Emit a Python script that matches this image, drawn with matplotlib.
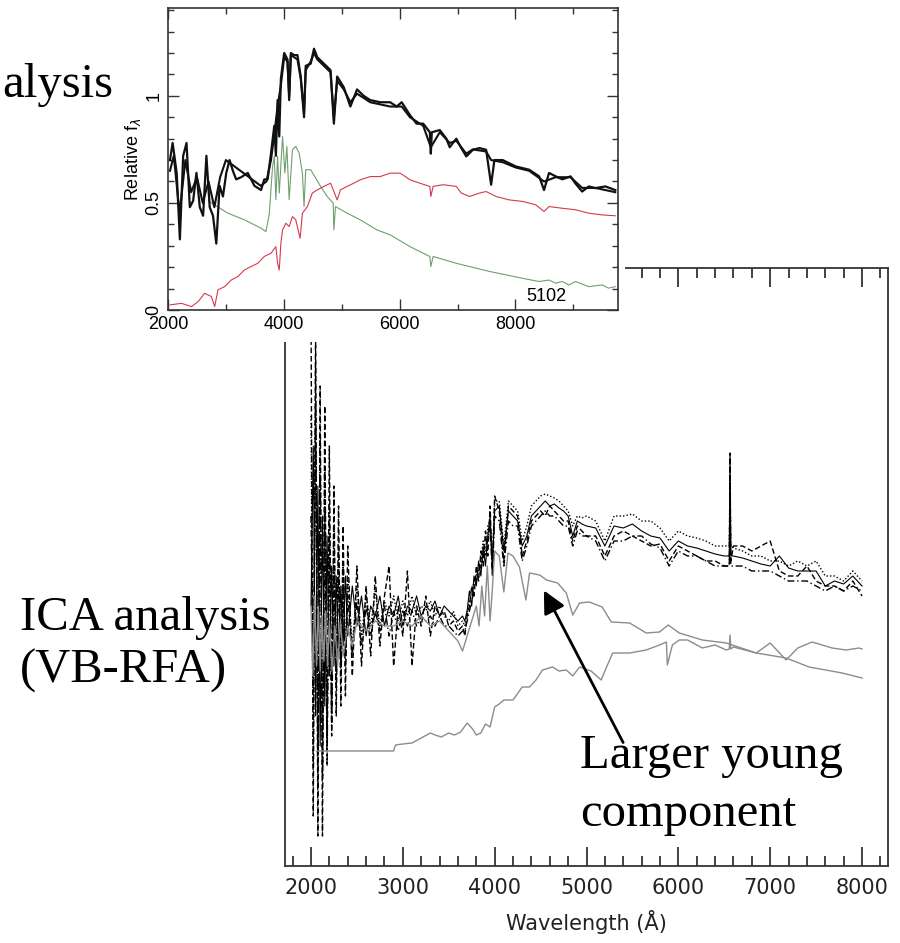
import matplotlib
matplotlib.use("Agg")
import matplotlib.pyplot as plt
from matplotlib.ticker import MultipleLocator
from matplotlib.patches import Rectangle

# ---- lower panel: ICA (VB-RFA) spectra, flux in arbitrary units ----
wl_obs = [2000, 2025, 2050, 2075, 2100, 2125, 2150, 2175, 2200, 2225, 2250, 2275, 2300, 2325, 2350, 2375, 2400,
          2450, 2500, 2550, 2600, 2650, 2700, 2750, 2800, 2850, 2900, 2950, 3000, 3050, 3100, 3150, 3200, 3250,
          3300, 3350, 3400, 3450, 3500, 3550, 3600, 3650,
          3675, 3700, 3725, 3750, 3775, 3800, 3825, 3850, 3875, 3900, 3925, 3950, 3975, 4000,
          4050, 4100, 4150, 4200, 4250, 4300, 4350, 4400, 4450, 4500, 4550, 4600, 4650, 4700, 4750, 4800, 4850,
          4900, 4950, 5000,
          5100, 5200, 5300, 5400, 5500, 5600, 5700, 5800, 5900, 6000, 6100, 6200, 6300, 6400, 6500, 6555, 6563,
          6571, 6600, 6700, 6800, 6900, 7000, 7100, 7200, 7300, 7400, 7500, 7600, 7700, 7800, 7900, 8000]

flux_solid = [2.6, 4.2, 1.5, 3.8, 1.2, 3.5, 1.6, 3.3, 1.9, 3.0, 2.0, 2.9, 2.1, 2.8, 2.2, 2.9, 2.3,
              2.8, 2.4, 2.7, 2.3, 2.6, 2.5, 2.7, 2.4, 2.6, 2.5, 2.7, 2.4, 2.6, 2.55, 2.7, 2.5, 2.6, 2.55, 2.65,
              2.5, 2.6, 2.55, 2.5, 2.45, 2.5,
              2.45, 2.55, 2.75, 2.6, 2.9, 2.8, 3.05, 2.9, 3.2, 3.0, 3.3, 3.5, 3.0, 3.55,
              3.6, 3.15, 3.55, 3.5, 3.45, 3.2, 3.3, 3.5, 3.55, 3.6, 3.65, 3.6, 3.62, 3.58, 3.55, 3.5, 3.3, 3.45,
              3.42, 3.4,
              3.38, 3.2, 3.4, 3.38, 3.42, 3.35, 3.3, 3.28, 3.15, 3.25, 3.2, 3.18, 3.15, 3.12, 3.1, 3.1, 4.1, 3.1,
              3.1, 3.08, 3.05, 3.02, 3.0, 3.1, 2.98, 2.95, 2.95, 2.95, 2.8, 2.85, 2.82, 2.9, 2.8]

flux_dashed = [5.6, 0.5, 5.4, 0.3, 4.8, 0.3, 4.6, 1.2, 4.2, 1.3, 3.8, 1.5, 3.6, 1.6, 3.4, 1.7, 3.2,
               1.9, 3.0, 2.0, 2.8, 2.1, 2.9, 2.2, 2.7, 3.0, 2.0, 2.6, 2.3, 2.95, 2.0, 2.6, 2.4, 2.7, 2.3, 2.6,
               2.5, 2.55, 2.4, 2.45, 2.35, 2.4,
               2.3, 2.5, 2.6, 2.8, 2.7, 3.0, 2.85, 3.15, 3.0, 3.35, 3.1, 3.6, 2.95, 3.7,
               3.55, 3.05, 3.6, 3.55, 3.5, 3.1, 3.25, 3.45, 3.5, 3.55, 3.5, 3.6, 3.55, 3.5, 3.45, 3.45, 3.25, 3.4,
               3.35, 3.3,
               3.3, 3.1, 3.3, 3.35, 3.3, 3.25, 3.2, 3.22, 3.05, 3.2, 3.15, 3.1, 3.05, 3.05, 3.0, 3.0, 4.13, 3.05,
               3.2, 3.2, 3.15, 3.2, 3.25, 2.95, 2.9, 2.9, 3.0, 2.85, 2.8, 2.8, 2.75, 2.85, 2.7]

flux_dotted = [4.5, 1.0, 5.0, 0.8, 4.3, 1.0, 4.0, 1.3, 3.6, 1.6, 3.4, 1.9, 3.2, 2.0, 3.0, 2.1, 2.9,
               2.2, 2.8, 2.3, 2.7, 2.4, 2.75, 2.4, 2.65, 2.5, 2.7, 2.45, 2.65, 2.5, 2.7, 2.5, 2.6, 2.55, 2.65,
               2.5, 2.6, 2.5, 2.45, 2.55, 2.4, 2.45,
               2.4, 2.55, 2.65, 2.7, 2.85, 2.9, 3.0, 3.05, 3.25, 3.1, 3.4, 3.45, 3.05, 3.65,
               3.65, 3.2, 3.65, 3.6, 3.55, 3.25, 3.4, 3.6, 3.65, 3.7, 3.72, 3.7, 3.68, 3.65, 3.6, 3.55, 3.4, 3.5,
               3.48, 3.5,
               3.45, 3.25, 3.5, 3.5, 3.52, 3.45, 3.45, 3.38, 3.25, 3.35, 3.3, 3.28, 3.25, 3.2, 3.2, 3.2, 3.9, 3.2,
               3.18, 3.15, 3.1, 3.1, 3.05, 3.05, 3.0, 3.05, 3.0, 3.05, 2.9, 2.9, 2.85, 2.95, 2.85]

flux_dashdot = [3.5, 1.8, 4.6, 1.1, 3.9, 0.9, 3.6, 1.0, 3.3, 1.4, 3.0, 1.8, 2.9, 1.9, 2.8, 2.0, 2.7,
                2.1, 2.65, 2.2, 2.6, 2.3, 2.55, 2.35, 2.6, 2.3, 2.55, 2.35, 2.55, 2.4, 2.55, 2.4, 2.5, 2.45, 2.5,
                2.4, 2.5, 2.4, 2.4, 2.35, 2.3, 2.35,
                2.35, 2.45, 2.55, 2.65, 2.75, 2.85, 2.95, 3.0, 3.1, 3.2, 3.25, 3.4, 2.9, 3.5,
                3.45, 3.0, 3.45, 3.4, 3.4, 3.05, 3.2, 3.4, 3.45, 3.5, 3.55, 3.5, 3.5, 3.45, 3.4, 3.4, 3.2, 3.35,
                3.3, 3.3,
                3.25, 3.05, 3.25, 3.25, 3.3, 3.3, 3.22, 3.18, 3.0, 3.15, 3.1, 3.1, 3.05, 3.0, 3.0, 3.0, 3.7, 3.0,
                3.0, 3.0, 2.95, 2.95, 2.95, 2.9, 2.85, 2.85, 2.85, 2.8, 2.75, 2.8, 2.75, 2.8, 2.75]

wl_young = [2000, 2020, 2040, 2060, 2080, 2100, 2120, 2140, 2160, 2180, 2200, 2230, 2260, 2290, 2320, 2350,
            2400, 2450, 2500, 2600, 2700, 2800, 2900, 3000, 3100, 3200, 3300, 3400, 3500, 3600, 3650, 3700,
            3750, 3800, 3830, 3860, 3890, 3920, 3950, 3970, 4000, 4050, 4100, 4145, 4200, 4270, 4340, 4380,
            4490, 4565, 4685, 4780, 4850, 4925, 5030, 5170, 5270, 5470, 5650, 5795, 5890, 6010, 6261, 6522,
            6848, 7174, 7424, 7783, 8000]
flux_young = [2.6, 1.9, 2.7, 2.0, 2.6, 1.95, 2.5, 2.05, 2.55, 2.0, 2.45, 1.95, 2.4, 2.0, 2.45, 2.1,
              2.4, 2.2, 2.45, 2.35, 2.45, 2.4, 2.4, 2.45, 2.4, 2.5, 2.4, 2.45, 2.35, 2.25, 2.15, 2.3,
              2.45, 2.6, 2.4, 2.8, 2.5, 3.0, 2.45, 2.7, 3.15, 3.1, 2.74, 3.13, 3.1, 2.99, 2.66, 2.93,
              2.91, 2.86, 2.83, 2.73, 2.51, 2.63, 2.64, 2.59, 2.44, 2.43, 2.33, 2.34, 2.41, 2.33, 2.26, 2.23,
              2.13, 2.08, 1.99, 1.93, 1.88]

wl_old = [2060, 2900, 2920, 3000, 3100, 3200, 3300, 3350, 3420, 3500, 3560, 3630, 3700, 3760, 3800, 3850,
          3900, 3950, 4000, 4050, 4100, 4200, 4300, 4380, 4450, 4520, 4630, 4700, 4780, 4850, 4925, 5050,
          5160, 5200, 5285, 5470, 5650, 5795, 5870, 5880, 5935, 6010, 6100, 6261, 6400, 6522, 6555, 6563,
          6571, 6600, 6848, 7000, 7174, 7300, 7457, 7674, 7826, 7967, 8000]
flux_old = [1.15, 1.15, 1.21, 1.22, 1.23, 1.28, 1.33, 1.31, 1.29, 1.33, 1.31, 1.34, 1.43, 1.37, 1.31, 1.33,
            1.42, 1.39, 1.59, 1.62, 1.66, 1.66, 1.79, 1.79, 1.86, 1.96, 1.99, 1.95, 1.96, 1.9, 1.99, 1.95,
            1.86, 1.95, 2.13, 2.13, 2.16, 2.21, 2.24, 2.01, 2.21, 2.26, 2.26, 2.18, 2.21, 2.16, 2.17, 2.31,
            2.17, 2.19, 2.13, 2.23, 2.06, 2.18, 2.24, 2.18, 2.16, 2.18, 2.17]

# ---- inset: spectral synthesis fit (relative f_lambda) ----
wl_in_obs = [2034, 2080, 2150, 2205, 2262, 2320, 2377, 2434, 2491, 2549, 2606, 2663, 2720, 2777, 2834, 2891,
             2949, 3006, 3063, 3120, 3177, 3263, 3377, 3492, 3606, 3663, 3720, 3778, 3835, 3863, 3892, 3921,
             3949, 4006, 4063, 4092, 4121, 4178, 4235, 4292, 4349, 4378, 4464, 4521, 4578, 4692, 4806, 4864,
             4921, 5035, 5149, 5264, 5378, 5492, 5664, 5835, 5949, 6035, 6178, 6292, 6407, 6521, 6538, 6555,
             6693, 6806, 6864, 6978, 7064, 7150, 7264, 7378, 7493, 7550, 7579, 7636, 7779, 8007, 8236, 8408,
             8493, 8579, 8694, 8808, 8951, 9037, 9151, 9265, 9380, 9551, 9723]
f_in_obs = [0.70, 0.78, 0.64, 0.33, 0.72, 0.78, 0.48, 0.51, 0.64, 0.48, 0.44, 0.72, 0.48, 0.44, 0.31, 0.58,
            0.53, 0.64, 0.70, 0.65, 0.61, 0.62, 0.64, 0.58, 0.56, 0.61, 0.61, 0.73, 0.86, 0.72, 0.98, 0.81,
            1.08, 1.20, 1.17, 0.98, 1.20, 1.19, 1.19, 1.09, 0.90, 1.14, 1.15, 1.22, 1.18, 1.15, 1.12, 0.87,
            1.09, 1.04, 0.95, 1.03, 1.00, 0.98, 0.97, 0.97, 0.95, 0.97, 0.91, 0.87, 0.87, 0.83, 0.73, 0.83,
            0.84, 0.80, 0.76, 0.80, 0.756, 0.717, 0.748, 0.756, 0.748, 0.64, 0.585, 0.70, 0.70, 0.67, 0.655, 0.624,
            0.56, 0.64, 0.624, 0.61, 0.624, 0.59, 0.553, 0.577, 0.569, 0.577, 0.56]

wl_in_fit = [2034, 2100, 2200, 2300, 2400, 2500, 2600, 2700, 2800, 2900, 3000, 3100, 3200, 3300, 3400, 3500,
             3600, 3700, 3778, 3835, 3892, 3949, 4006, 4063, 4092, 4121, 4178, 4235, 4292, 4349, 4378, 4464,
             4521, 4578, 4692, 4806, 4864, 4921, 5035, 5149, 5264, 5378, 5492, 5664, 5835, 6035, 6178, 6407,
             6538, 6693, 6864, 6978, 7150, 7264, 7493, 7579, 7779, 8007, 8236, 8493, 8694, 8951, 9151, 9380,
             9723]
f_in_fit = [0.65, 0.72, 0.45, 0.70, 0.55, 0.62, 0.50, 0.60, 0.48, 0.62, 0.70, 0.68, 0.66, 0.64, 0.62, 0.60,
            0.58, 0.60, 0.70, 0.82, 0.95, 1.05, 1.18, 1.16, 1.00, 1.19, 1.18, 1.17, 1.08, 0.92, 1.12, 1.16,
            1.20, 1.17, 1.14, 1.11, 0.90, 1.07, 1.03, 0.97, 1.01, 0.99, 0.97, 0.96, 0.95, 0.95, 0.90, 0.86,
            0.76, 0.83, 0.78, 0.79, 0.73, 0.75, 0.74, 0.70, 0.69, 0.665, 0.65, 0.60, 0.62, 0.62, 0.57, 0.57,
            0.55]

wl_in_young = [2700, 2749, 3034, 3320, 3606, 3692, 3749, 3806, 3835, 3863, 3892, 3921, 3978, 4018, 4052, 4092,
               4149, 4206, 4264, 4321, 4349, 4378, 4464, 4635, 4749, 4852, 4864, 4892, 5093, 5321, 5607, 5835,
               6178, 6407, 6521, 6538, 6578, 6978, 7550, 8122, 8408, 8579, 8694, 8808, 8922, 9037, 9265, 9494,
               9608, 9723]
f_in_young = [0.51, 0.50, 0.452, 0.421, 0.382, 0.366, 0.45, 0.67, 0.717, 0.515, 0.717, 0.546, 0.81, 0.639, 0.764,
              0.515, 0.748, 0.764, 0.733, 0.639, 0.483, 0.655, 0.655, 0.577, 0.53, 0.499, 0.374, 0.483, 0.452,
              0.421, 0.374, 0.351, 0.296, 0.265, 0.25, 0.203, 0.25, 0.218, 0.18, 0.148, 0.133, 0.14, 0.125,
              0.133, 0.117, 0.133, 0.109, 0.117, 0.102, 0.109]

wl_in_old = [2034, 2234, 2406, 2520, 2634, 2749, 2806, 2863, 2977, 3092, 3206, 3320, 3435, 3549, 3663, 3778,
             3863, 3892, 3921, 3949, 3978, 4035, 4092, 4149, 4206, 4281, 4321, 4407, 4492, 4578, 4692, 4807,
             4921, 4978, 5093, 5207, 5321, 5493, 5664, 5836, 6007, 6092, 6178, 6350, 6521, 6538, 6578, 6750,
             6978, 7064, 7207, 7379, 7493, 7664, 7893, 8122, 8351, 8493, 8579, 8808, 9037, 9265, 9494, 9723]
f_in_old = [0.024, 0.031, 0.016, 0.039, 0.078, 0.063, 0.016, 0.094, 0.109, 0.14, 0.156, 0.187, 0.203, 0.218,
            0.25, 0.265, 0.296, 0.218, 0.187, 0.312, 0.374, 0.405, 0.39, 0.436, 0.421, 0.335, 0.452, 0.483,
            0.546, 0.561, 0.577, 0.592, 0.514, 0.561, 0.577, 0.592, 0.608, 0.623, 0.623, 0.639, 0.639, 0.624,
            0.608, 0.592, 0.577, 0.53, 0.577, 0.585, 0.577, 0.546, 0.53, 0.546, 0.553, 0.53, 0.514, 0.507,
            0.491, 0.46, 0.483, 0.475, 0.468, 0.452, 0.444, 0.44]

W, H = 900.0, 943.0


def box(x0, y0, x1, y1):
    # pixel box measured from the top-left corner -> figure rect
    return [x0 / W, 1 - y1 / H, (x1 - x0) / W, (y1 - y0) / H]


fig = plt.figure(figsize=(9, 9.43), dpi=100)

# lower panel
ax = fig.add_axes(box(285, 268, 888, 866), zorder=0)
ax.plot(wl_obs, flux_solid, color='black', lw=0.8)
ax.plot(wl_obs, flux_dashed, color='black', lw=1.0, ls=(0, (4, 2)))
ax.plot(wl_obs, flux_dotted, color='black', lw=1.0, ls=(0, (1, 1.5)))
ax.plot(wl_obs, flux_dashdot, color='black', lw=1.0, ls=(0, (5, 2, 1, 2)))
ax.plot(wl_young, flux_young, color='#8c8c8c', lw=1.0)
ax.plot(wl_old, flux_old, color='#8c8c8c', lw=1.0)
ax.set_xlim(1717, 8283)
ax.set_ylim(0, 5.98)
ax.xaxis.set_major_locator(MultipleLocator(1000))
ax.xaxis.set_minor_locator(MultipleLocator(200))
ax.tick_params(axis='x', which='both', direction='in', top=True, bottom=True, width=1.2, color='#222222')
ax.tick_params(axis='x', which='major', length=14, pad=9, labelsize=15, labelcolor='#222222')
ax.tick_params(axis='x', which='minor', length=7)
ax.tick_params(axis='y', left=False, right=False, labelleft=False)
for s in ax.spines.values():
    s.set_linewidth(1.3)
    s.set_color('#333333')
ax.set_xlabel('Wavelength (Å)', fontsize=15, color='#222222', labelpad=8)

ax.annotate('', xy=(4522, 2.78), xytext=(5413, 1.21),
            arrowprops=dict(arrowstyle='-|>', color='black', lw=2.0, mutation_scale=34))

# the pasted inset hides the top of the lower panel
fig.patches.append(Rectangle((112 / W, 1 - 342 / H), 513 / W, 342 / H,
                             transform=fig.transFigure, facecolor='white', edgecolor='none', zorder=1))

# inset panel
ins = fig.add_axes(box(168, 8, 618, 310), zorder=2)
ins.plot(wl_in_young, f_in_young, color='#6f9f6f', lw=0.8)
ins.plot(wl_in_old, f_in_old, color='#d43a4c', lw=0.8)
ins.plot(wl_in_fit, f_in_fit, color='#111111', lw=1.5)
ins.plot(wl_in_obs, f_in_obs, color='#111111', lw=1.6)
ins.set_xlim(2000, 9770)
ins.set_ylim(0, 1.41)
ins.xaxis.set_major_locator(MultipleLocator(2000))
ins.xaxis.set_minor_locator(MultipleLocator(1000))
ins.yaxis.set_major_locator(MultipleLocator(0.5))
ins.yaxis.set_minor_locator(MultipleLocator(0.1))
ins.set_yticks([0, 0.5, 1])
ins.set_yticklabels(['0', '0.5', '1'], rotation=90, va='center')
ins.tick_params(which='both', direction='in', top=True, right=True, width=1.0, color='#333333',
                labelsize=13)
ins.tick_params(which='major', length=8, pad=4)
ins.tick_params(which='minor', length=4)
for lab in ins.get_xticklabels() + ins.get_yticklabels():
    lab.set_fontfamily('Liberation Sans')
for s in ins.spines.values():
    s.set_linewidth(1.2)
    s.set_color('#333333')
ins.set_ylabel(r'Relative f$_\lambda$', fontsize=13, family='Liberation Sans', labelpad=2)
ins.text(8530, 0.04, '5102', fontsize=13, family='Liberation Sans', ha='center', va='baseline')

# slide captions
serif = dict(family='Liberation Serif', fontsize=35, va='baseline', zorder=3)
fig.text(2 / W, 1 - 97 / H, 'alysis', ha='left', **serif)
fig.text(20 / W, 1 - 630 / H, 'ICA analysis', ha='left', **serif)
fig.text(20 / W, 1 - 683 / H, '(VB-RFA)', ha='left', **serif)
fig.text(580 / W, 1 - 768 / H, 'Larger young', ha='left', **serif)
fig.text(580 / W, 1 - 826 / H, 'component', ha='left', **serif)

fig.savefig('out.png', dpi=100)
